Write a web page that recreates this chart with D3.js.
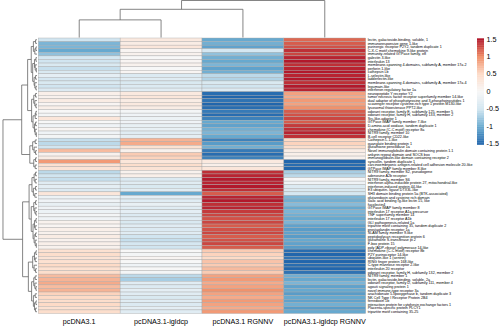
<!DOCTYPE html>
<html>
<head>
<meta charset="utf-8">
<script src="https://cdn.jsdelivr.net/npm/d3@7"></script>
<style>
  body { margin:0; background:#fff; }
  text { font-family: "Liberation Sans", Arial, sans-serif; fill:#000; }
</style>
</head>
<body>
<svg id="heat"></svg>
<script>
// samples (columns) in dendrogram order
var samples = ["pcDNA3.1","pcDNA3.1-igldcp","pcDNA3.1 RGNNV","pcDNA3.1-igldcp RGNNV"]

var genes = [
"lectin, galactoside-binding, soluble, 1",
"immunoresponsive gene 1-like",
"purinergic receptor P2Y2, tandem duplicate 1",
"C-X-C motif chemokine 9-like protein",
"immunity-related GTPase family, e8",
"galectin 3-like",
"interleukin 13",
"membrane-spanning 4-domains, subfamily A, member 17a.2",
"perforin 1-like",
"cathepsin Lb",
"L-selectin-like",
"ladderlectin-like",
"membrane-spanning 4-domains, subfamily A, member 17a.4",
"legumain-like",
"interferon regulatory factor 1a",
"neuropeptide Y receptor Y2",
"tumor necrosis factor receptor superfamily member 14-like",
"dual adaptor of phosphotyrosine and 3-phosphoinositides 1",
"scavenger receptor cysteine-rich type 1 protein M130-like",
"lysosomal thioesterase PPT2-like",
"odorant receptor, family E, subfamily 125, member 5",
"odorant receptor, family H, subfamily 133, member 2",
"Src-like-adaptor 1",
"GTPase IMAP family member 7-like",
"D-amino-acid oxidase, tandem duplicate 1",
"chemokine (C-C motif) receptor 8a",
"NITR9 family, member 10",
"B-cell receptor CD22-like",
"Cathepsin L.1-like",
"guanylate binding protein 1",
"glutathione peroxidase 1a",
"Novel immunoglobulin domain containing protein 1.1",
"ankyrin repeat domain and SOCS box",
"immunoglobulin-like domain containing receptor 2",
"syncollin, tandem duplicate 1",
"carcinoembryonic antigen-related cell adhesion molecule 20-like",
"GTPase IMAP family member 8-like",
"NITR9 family, member S2, pseudogene",
"adenosine A2b receptor",
"NITR9 family, member S6",
"interferon alpha-inducible protein 27, mitochondrial-like",
"interferon-induced protein 44-like",
"E3 ubiquitin- ligase DTX3L-like",
"SH3 domain binding protein 5a (BTK-associated)",
"glutaredoxin and cysteine rich domain",
"sialic acid binding Ig-like lectin 15, like",
"fucolectin4",
"GTPase IMAP family member 8",
"interleukin 17 receptor A1a precursor",
"TNF superfamily member 14",
"interleukin 17 receptor A1b",
"GLI pathogenesis-related 1a",
"tripartite motif containing 35, tandem duplicate 2",
"prostaglandin receptor 1a",
"SLAM family member 9-like",
"peptidoglycan recognition protein 6",
"glutathione S-transferase pi 2",
"F-box protein 15",
"poly [ADP-ribose] polymerase 14-like",
"chemokine (C-C motif) receptor 8b",
"P2Y purinoceptor 14-like",
"ubiquitin-like 1 (sentrin)",
"RING finger protein 168-like",
"C-type mannose receptor 2-like",
"interleukin 20 receptor",
"odorant receptor, family H, subfamily 132, member 2",
"NITR9 family, member 1",
"lectin, galactoside-binding, soluble, 2a",
"odorant receptor, family D, subfamily 111, member 4",
"agouti signaling protein 1",
"novel immune-type receptor 3a",
"arachidonate 5-lipoxygenase b, tandem duplicate 3",
"NK Cell Type I Receptor Protein 2B4",
"ferredoxin 1b",
"interaction protein for cytohesin exchange factors 1",
"Placenta-specific protein PLCY1",
"tripartite motif containing 35-25"
]

// scaled expression (z-score) per sample, in row order
var pcDNA = [
 -0.5,-0.9,-0.9,-1.0,-0.8,-0.45,-0.5,-0.4,-0.55,-0.4,-0.25,-0.45,-0.4,-0.5,-0.35,
 0.15,0.1,0.2,0.05,0.15,0.0,-0.05,0.3,0.0,-0.1,0.05,-0.1,-0.05,
 -0.55,-0.6,-0.5,0.7,0.1,0.2,0.9,0.4,0.35,
 -0.6,-0.5,-0.55,-0.3,-0.25,-0.35,0.3,-0.15,-0.1,-0.2,-0.1,-0.15,-0.05,-0.1,0.1,0.05,0.15,0.1,0.2,0.1,0.15,0.1,
 0.4,0.45,0.35,0.4,0.5,0.4,0.45,0.7,0.75,0.8,0.7,0.75,0.55,0.5,0.45,0.5,0.4,0.45]
var igldcp = [
 0.25,0.2,0.3,0.05,0.1,0.0,0.05,0.1,0.0,0.05,-0.35,-0.3,-0.4,-0.35,-0.3,
 0.25,0.3,0.2,0.25,0.2,-0.05,-0.1,-0.15,-0.1,-0.2,-0.2,-0.3,-0.25,
 0.75,0.8,0.4,0.1,0.6,0.55,0.3,0.45,0.35,
 0.1,0.15,-0.35,-0.3,-0.4,-0.3,-1.0,-0.25,-0.3,-0.2,-0.3,-0.25,-0.35,-0.3,-0.4,-0.3,-0.35,-0.3,-0.5,-0.55,-0.45,-0.5,
 0.0,-0.05,0.05,0.0,-0.1,0.0,-0.05,-0.6,-0.7,-0.3,-0.35,-0.25,-0.3,-0.4,-0.3,-0.35,-0.25,-0.3]
var rgnnv = [
 -1.0,-0.95,-1.05,-0.45,-0.8,-0.95,-1.0,-0.9,-1.05,-0.95,-0.6,-0.65,-0.4,-0.5,-0.35,
 -1.45,-1.5,-1.4,-1.5,-1.45,-1.35,-1.45,-1.3,-1.0,-1.05,-0.95,-0.9,-1.0,
 -1.3,-1.1,-0.95,-1.35,-1.45,-1.3,0.25,0.15,0.3,
 1.4,1.45,1.5,1.45,1.5,1.4,1.2,1.45,1.5,1.4,1.45,1.35,1.3,1.25,1.3,1.2,1.25,1.3,1.2,1.25,1.3,1.2,
 0.6,0.55,0.5,0.65,0.6,0.7,0.6,0.85,0.9,0.8,0.85,0.95,0.85,0.8,0.9,0.85,0.8,0.9]
var igldcpRgnnv = [
 1.15,1.2,1.25,1.4,1.3,1.45,1.5,1.4,1.45,1.5,1.45,1.5,1.4,1.5,1.45,
 0.85,0.8,0.9,0.85,0.95,1.2,1.25,1.3,1.2,1.35,1.4,1.45,1.4,
 0.5,0.55,0.45,0.2,0.15,0.1,-1.5,-1.45,-1.5,
 -0.7,-0.6,0.0,-0.1,-0.35,-0.4,-0.45,-0.9,-0.95,-0.85,-1.0,-0.9,-0.95,-1.0,-0.9,-1.05,-1.1,-1.05,-1.1,-1.0,-1.05,-1.1,
 -1.45,-1.5,-1.4,-1.5,-1.45,-1.5,-1.4,-0.95,-1.0,-0.9,-1.05,-1.0,-1.1,-1.0,-1.05,-0.95,-1.1,-1.0]

// dendrograms: [height, left, right], leaves are indexes
var colTree = [2.1, [1.6, [1.0, 0, 1], 2], 3]
var rowTree = [9.45,
  [4.25,
    [2.6,
      [1.6, [1.0,[0.4,0,1],[0.6,[0.3,2,3],4]], [1.2,[0.7,[0.3,5,6],[0.5,7,[0.2,8,9]]],[0.8,[0.4,10,11],[0.6,12,[0.3,13,14]]]]],
      [1.5, [0.9,[0.4,15,16],[0.6,17,[0.3,18,19]]], [1.1,[0.5,[0.3,20,21],22],[0.7,[0.4,23,24],[0.5,25,[0.2,26,27]]]]]],
    [2.0, [1.2,[0.5,28,29],[0.8,30,[0.4,31,32]]], [0.9,[0.4,33,34],[0.5,35,36]]]],
  [4.0,
    [2.2, [1.4,[0.8,[0.4,37,38],[0.5,39,40]],[1.0,[0.4,41,42],[0.6,43,44]]],
          [1.6,[0.9,[0.4,45,46],[0.6,47,[0.3,48,49]]],[1.1,[0.7,[0.3,50,51],[0.5,52,53]],[0.8,[0.4,54,55],[0.5,56,[0.2,57,58]]]]]],
    [2.4, [1.2,[0.7,[0.3,59,60],[0.5,61,62]],[0.8,63,[0.4,64,65]]],
          [1.5,[0.9,[0.5,66,67],[0.6,68,[0.3,69,70]]],[1.0,[0.5,71,72],[0.7,[0.3,73,74],[0.4,75,76]]]]]]]

var legendTicks = [1.5,1,0.5,0,-0.5,-1,-1.5]
var palette = ["#2166AC","#67A9CF","#D1E5F0","#F7F7F7","#FDDBC7","#EF8A62","#B2182B"]

var screen = {width:500, height:327}
var svg = d3.select("#heat")
    .attr("width",screen.width)
    .attr("height",screen.height)

var series = [pcDNA, igldcp, rgnnv, igldcpRgnnv]

var xScale = d3.scaleBand()
    .domain(d3.range(samples.length))
    .range([38.3,365.7])
var yScale = d3.scaleBand()
    .domain(d3.range(genes.length))
    .range([38,313.5])
var color = d3.scaleLinear()
    .domain([-1.5,-1,-0.5,0,0.5,1,1.5])
    .range(palette)
    .clamp(true)

// cells
var cells = []
series.forEach(function(vals,c)
    {
        vals.forEach(function(v,r){ cells.push({c:c, r:r, v:v}) })
    })

svg.append("g")
    .selectAll("rect")
    .data(cells)
    .enter()
    .append("rect")
    .attr("x",function(d){ return xScale(d.c) })
    .attr("y",function(d){ return yScale(d.r) })
    .attr("width",xScale.bandwidth())
    .attr("height",yScale.bandwidth())
    .attr("fill",function(d){ return color(d.v) })
    .attr("stroke","#a8a8a8")
    .attr("stroke-width",0.4)

// dendrogram helper
var buildTree = function(data, leafPos)
{
    var root = d3.hierarchy(data, function(d){ return Array.isArray(d) ? d.slice(1) : null })
    root.eachAfter(function(n)
        {
            if(n.children)
                { n.h = n.data[0]; n.p = d3.mean(n.children, function(k){ return k.p }) }
            else
                { n.h = 0; n.p = leafPos(n.data) }
        })
    return root
}

var rowRoot = buildTree(rowTree, function(i){ return yScale(i)+yScale.bandwidth()/2 })
var hx = d3.scaleLinear().domain([0,10]).range([37,1])

svg.append("g")
    .selectAll("path")
    .data(rowRoot.descendants().filter(function(n){ return n.children }))
    .enter()
    .append("path")
    .attr("fill","none")
    .attr("stroke","#666")
    .attr("stroke-width",0.8)
    .attr("d",function(n)
        {
            var a = n.children[0], b = n.children[1]
            return "M"+hx(a.h)+","+a.p+"H"+hx(n.h)+"V"+b.p+"H"+hx(b.h)
        })

var colRoot = buildTree(colTree, function(i){ return xScale(i)+xScale.bandwidth()/2 })
var hy = d3.scaleLinear().domain([0,2.1]).range([37.5,0.5])

svg.append("g")
    .selectAll("path")
    .data(colRoot.descendants().filter(function(n){ return n.children }))
    .enter()
    .append("path")
    .attr("fill","none")
    .attr("stroke","#666")
    .attr("stroke-width",0.8)
    .attr("d",function(n)
        {
            var a = n.children[0], b = n.children[1]
            return "M"+a.p+","+hy(a.h)+"V"+hy(n.h)+"H"+b.p+"V"+hy(b.h)
        })

// row labels
svg.append("g")
    .selectAll("text")
    .data(genes)
    .enter()
    .append("text")
    .attr("x",367.7)
    .attr("y",function(d,i){ return yScale(i)+yScale.bandwidth()/2 })
    .attr("dy","0.35em")
    .style("font-size","3.7px")
    .text(function(d){ return d })

// column labels
svg.append("g")
    .selectAll("text")
    .data(samples)
    .enter()
    .append("text")
    .attr("x",function(d,i){ return xScale(i)+xScale.bandwidth()/2 })
    .attr("y",324)
    .attr("text-anchor","middle")
    .style("font-size","7.2px")
    .text(function(d){ return d })

// colour legend
var legY = d3.scaleLinear().domain([-1.52,1.52]).range([144.5,38.3])
var steps = d3.range(-1.52,1.52,0.02)
svg.append("g")
    .selectAll("rect")
    .data(steps)
    .enter()
    .append("rect")
    .attr("x",477)
    .attr("width",7)
    .attr("y",function(d){ return legY(d+0.02) })
    .attr("height",function(d){ return legY(d)-legY(d+0.02)+0.3 })
    .attr("fill",function(d){ return color(d+0.01) })

svg.append("g")
    .selectAll("text")
    .data(legendTicks)
    .enter()
    .append("text")
    .attr("x",486.5)
    .attr("y",function(d){ return legY(d) })
    .attr("dy","0.35em")
    .style("font-size","7.2px")
    .text(function(d){ return d })
</script>
</body>
</html>
